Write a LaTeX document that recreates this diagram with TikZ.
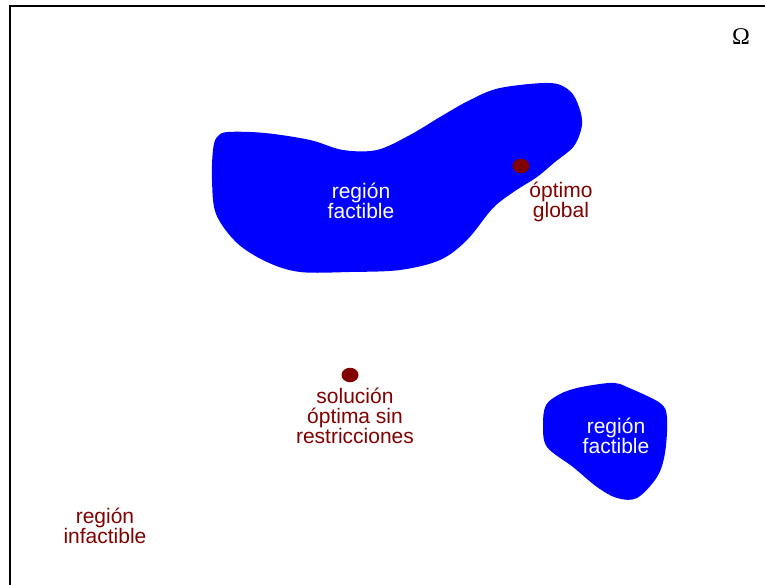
\documentclass[tikz,border=0pt]{standalone}
\usepackage{fontspec}
\usetikzlibrary{shapes.geometric}
\setmainfont{Liberation Sans}
\newfontfamily\omegafont{Liberation Serif}
\definecolor{blobblue}{HTML}{0000FF}
\definecolor{darkmaroon}{HTML}{800000}
\begin{document}
\begin{tikzpicture}[x=1pt,y=-1pt,
  lbl/.style={align=center,font=\fontsize{21}{20.3}\selectfont,inner sep=0pt},
  inlbl/.style={lbl,text=white},
  outlbl/.style={lbl,text=darkmaroon},
  optdot/.style={ellipse,fill=darkmaroon,minimum width=17pt,minimum height=14.5pt,inner sep=0pt}]
\useasboundingbox (0,0) rectangle (765,585);
\clip (0,0) rectangle (765,585);
\draw[line width=1.5pt] (10,6) rectangle (790,610);
% large feasible region
\fill[blobblue] plot[smooth cycle, tension=0.55] coordinates {
 (213,150) (217,137) (228,132) (265,133) (310,140) (343,150) (377,150)
 (410,135) (440,117) (470,100) (500,88) (550,83) (570,91) (579,107)
 (582,125) (574,146) (555,162) (537,177) (515,191) (493,208) (467,240)
 (440,260) (400,270) (350,272) (300,272) (267,262) (237,243) (216,214) (212,180)};
% small feasible region
\fill[blobblue] plot[smooth cycle, tension=0.55] coordinates {
 (546,405) (560,394) (577,388) (600,384) (615,383) (627,387) (660,403)
 (667,418) (665,453) (657,477) (637,498) (617,498) (597,487) (573,467)
 (547,447) (543,425)};
\node[optdot] (glob) at (521,166) {};
\node[optdot] (unc) at (350,375) {};
\node[inlbl] (f1) at (361,201) {región\\factible};
\node[inlbl] (f2) at (616,436) {región\\factible};
\node[outlbl] (og) at (561,202) {óptimo\\global};
\node[outlbl] (sol) at (355,416) {solución\\óptima sin\\restricciones};
\node[outlbl] (inf) at (105,526) {región\\infactible};
\node[inner sep=0pt,font=\omegafont\fontsize{24}{24}\selectfont] (om) at (741,37) {Ω};
\end{tikzpicture}
\end{document}
